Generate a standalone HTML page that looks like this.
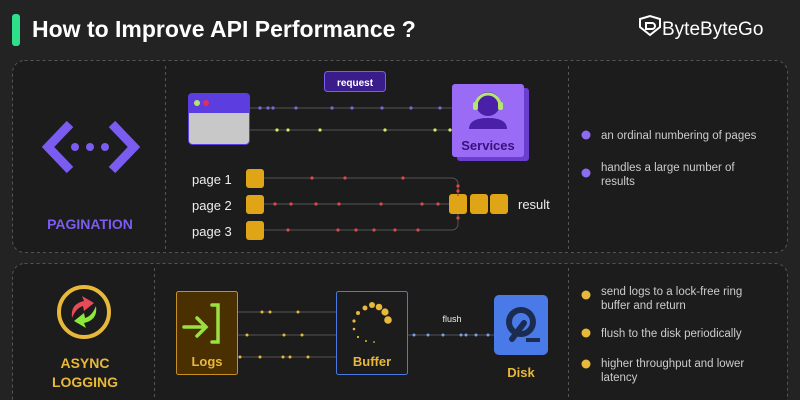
<!DOCTYPE html>
<html><head><meta charset="utf-8"><style>
html,body{margin:0;padding:0;background:#232323;}
svg{display:block;font-family:"Liberation Sans",sans-serif;}
</style></head><body>
<svg width="800" height="400" viewBox="0 0 800 400">
<rect width="800" height="400" fill="#232323"/>
<!-- header -->
<rect x="12" y="14" width="8" height="32" rx="3" fill="#2ee08a"/>
<text x="32" y="37" fill="#fff" font-size="23" font-weight="bold">How to Improve API Performance ?</text>
<g fill="none" stroke="#fff" stroke-width="2"><path d="M640 19 l10 -3 10 3 v8 l-10 8 -10 -8z"/><path d="M646 23 h6 a3 3 0 0 1 0 6 h-6z"/></g>
<text x="662" y="35" fill="#fff" font-size="19">ByteByteGo</text>
<!-- panels -->
<rect x="12.5" y="60.5" width="775" height="192" rx="12" fill="#1c1c1c" stroke="#555" stroke-dasharray="3,3"/>
<rect x="12.5" y="263.5" width="775" height="150" rx="12" fill="#1c1c1c" stroke="#555" stroke-dasharray="3,3"/>
<g stroke="#555" stroke-dasharray="3,3"><line x1="165.5" y1="66" x2="165.5" y2="250"/><line x1="568.5" y1="66" x2="568.5" y2="250"/><line x1="154.5" y1="268" x2="154.5" y2="400"/><line x1="568.5" y1="268" x2="568.5" y2="400"/></g>
<!-- pagination icon -->
<g stroke="#7b5cf0" stroke-width="9" fill="none"><path d="M70 124 L48 147 L70 170"/><path d="M112 124 L134 147 L112 170"/></g>
<g fill="#7b5cf0"><circle cx="75" cy="147" r="4"/><circle cx="90" cy="147" r="4"/><circle cx="105" cy="147" r="4"/></g>
<text x="90" y="229" fill="#7b5cf0" font-size="14" font-weight="bold" text-anchor="middle">PAGINATION</text>
<!-- request -->
<rect x="324.5" y="71.5" width="61" height="20" rx="3" fill="#3a1d8a" stroke="#7b5cf0"/>
<text x="355" y="86" fill="#fff" font-size="10" font-weight="bold" text-anchor="middle">request</text>
<!-- browser -->
<rect x="188.5" y="93.5" width="61" height="51" rx="4" fill="#c8c8c8" stroke="#5b3de0"/>
<path d="M188 97 a4 4 0 0 1 4 -4 h54 a4 4 0 0 1 4 4 v16 h-62z" fill="#5b3de0"/>
<circle cx="197" cy="103" r="3" fill="#b5e66a"/><circle cx="206" cy="103" r="3" fill="#e0305a"/>
<g stroke="#555"><line x1="250" y1="108" x2="452" y2="108"/><line x1="250" y1="130" x2="452" y2="130"/></g>
<g fill="#7b68e0"><circle cx="260" cy="108" r="1.6"/><circle cx="268" cy="108" r="1.6"/><circle cx="273" cy="108" r="1.6"/><circle cx="296" cy="108" r="1.6"/><circle cx="332" cy="108" r="1.6"/><circle cx="352" cy="108" r="1.6"/><circle cx="382" cy="108" r="1.6"/><circle cx="411" cy="108" r="1.6"/><circle cx="440" cy="108" r="1.6"/></g>
<g fill="#c8f060"><circle cx="277" cy="130" r="1.6"/><circle cx="288" cy="130" r="1.6"/><circle cx="320" cy="130" r="1.6"/><circle cx="385" cy="130" r="1.6"/><circle cx="435" cy="130" r="1.6"/><circle cx="450" cy="130" r="1.6"/></g>
<!-- services -->
<rect x="457" y="88" width="72" height="73" rx="3" fill="#6a3fd0"/>
<rect x="452" y="84" width="72" height="73" rx="3" fill="#9a6cf5"/>
<circle cx="488" cy="104" r="12" fill="#4a20a8"/>
<path d="M469 129 q0 -11 19 -11 q19 0 19 11 z" fill="#4a20a8"/>
<path d="M476 106 a12 12 0 0 1 24 0" fill="none" stroke="#b5e66a" stroke-width="3"/>
<rect x="473" y="102" width="5" height="8" rx="2" fill="#b5e66a"/><rect x="498" y="102" width="5" height="8" rx="2" fill="#b5e66a"/>
<text x="488" y="150" fill="#3a1080" font-size="13" font-weight="bold" text-anchor="middle">Services</text>
<!-- pages -->
<g fill="#eee" font-size="13"><text x="192" y="184">page 1</text><text x="192" y="210">page 2</text><text x="192" y="236">page 3</text></g>
<g fill="#e0a417"><rect x="246" y="169" width="18" height="19" rx="3"/><rect x="246" y="195" width="18" height="19" rx="3"/><rect x="246" y="221" width="18" height="19" rx="3"/>
<rect x="449" y="194" width="18" height="20" rx="3"/><rect x="470" y="194" width="18" height="20" rx="3"/><rect x="490" y="194" width="18" height="20" rx="3"/></g>
<g stroke="#555" fill="none"><path d="M264 178 H452 a6 6 0 0 1 6 6 V196"/><line x1="264" y1="204" x2="449" y2="204"/><path d="M264 230 H452 a6 6 0 0 0 6 -6 V214"/></g>
<g fill="#e04848"><circle cx="312" cy="178" r="1.6"/><circle cx="345" cy="178" r="1.6"/><circle cx="403" cy="178" r="1.6"/><circle cx="458" cy="186" r="1.6"/><circle cx="458" cy="191" r="1.6"/>
<circle cx="275" cy="204" r="1.6"/><circle cx="291" cy="204" r="1.6"/><circle cx="316" cy="204" r="1.6"/><circle cx="339" cy="204" r="1.6"/><circle cx="381" cy="204" r="1.6"/><circle cx="422" cy="204" r="1.6"/><circle cx="438" cy="204" r="1.6"/>
<circle cx="288" cy="230" r="1.6"/><circle cx="338" cy="230" r="1.6"/><circle cx="356" cy="230" r="1.6"/><circle cx="374" cy="230" r="1.6"/><circle cx="395" cy="230" r="1.6"/><circle cx="418" cy="230" r="1.6"/><circle cx="458" cy="218" r="1.6"/></g>
<text x="518" y="209" fill="#eee" font-size="13">result</text>
<!-- bullets 1 -->
<g fill="#8c6cf0"><circle cx="586" cy="135" r="4.5"/><circle cx="586" cy="173" r="4.5"/></g>
<g fill="#ccc" font-size="11.5"><text x="601" y="139">an ordinal numbering of pages</text><text x="601" y="171">handles a large number of</text><text x="601" y="185">results</text></g>
<!-- async icon -->
<circle cx="84" cy="312" r="25" fill="none" stroke="#e8b83a" stroke-width="4"/>
<path d="M72 318 q-2 -14 12 -17 l-2 -5 12 7 -10 8 -1 -5 q-7 2 -11 12z" fill="#e84a5a"/>
<path d="M96 306 q2 14 -12 17 l2 5 -12 -7 10 -8 1 5 q7 -2 11 -12z" fill="#8ee83a"/>
<g fill="#e8b83a" font-size="14" font-weight="bold" text-anchor="middle"><text x="85" y="368">ASYNC</text><text x="85" y="387">LOGGING</text></g>
<!-- logs -->
<rect x="176.5" y="291.5" width="61" height="83" rx="2" fill="#4a3000" stroke="#c89020"/>
<g stroke="#9ae040" stroke-width="3.5" fill="none" stroke-linecap="round"><path d="M184 327 h22 M197 318 l9 9 -9 9"/><path d="M212 305 h6 v37 h-6"/></g>
<text x="207" y="366" fill="#e8b83a" font-size="13" font-weight="bold" text-anchor="middle">Logs</text>
<g stroke="#555"><line x1="238" y1="312" x2="336" y2="312"/><line x1="238" y1="335" x2="336" y2="335"/><line x1="238" y1="357" x2="336" y2="357"/></g>
<g fill="#e8b83a"><circle cx="262" cy="312" r="1.5"/><circle cx="270" cy="312" r="1.5"/><circle cx="298" cy="312" r="1.5"/><circle cx="247" cy="335" r="1.5"/><circle cx="284" cy="335" r="1.5"/><circle cx="302" cy="335" r="1.5"/><circle cx="240" cy="357" r="1.5"/><circle cx="260" cy="357" r="1.5"/><circle cx="283" cy="357" r="1.5"/><circle cx="290" cy="357" r="1.5"/><circle cx="308" cy="357" r="1.5"/></g>
<!-- buffer -->
<rect x="336.5" y="291.5" width="71" height="83" rx="2" fill="#1c1c1c" stroke="#4a7ae0"/>
<g fill="#e8b83a"><circle cx="365" cy="308" r="2.5"/><circle cx="372" cy="305" r="3"/><circle cx="379" cy="307" r="3.3"/><circle cx="385" cy="312" r="3.6"/><circle cx="388" cy="320" r="3.8"/><circle cx="358" cy="313" r="2"/><circle cx="354" cy="321" r="1.6"/><circle cx="354" cy="329" r="1.3"/><circle cx="358" cy="337" r="1.1"/><circle cx="366" cy="341" r="1"/><circle cx="374" cy="342" r="0.9"/></g>
<text x="372" y="366" fill="#e8b83a" font-size="13" font-weight="bold" text-anchor="middle">Buffer</text>
<line x1="408" y1="335" x2="494" y2="335" stroke="#555"/>
<g fill="#7a9ef0"><circle cx="414" cy="335" r="1.5"/><circle cx="428" cy="335" r="1.5"/><circle cx="443" cy="335" r="1.5"/><circle cx="461" cy="335" r="1.5"/><circle cx="466" cy="335" r="1.5"/><circle cx="476" cy="335" r="1.5"/><circle cx="488" cy="335" r="1.5"/></g>
<text x="452" y="322" fill="#eee" font-size="9" text-anchor="middle">flush</text>
<!-- disk -->
<rect x="494" y="295" width="54" height="60" rx="5" fill="#4a7ae8"/>
<circle cx="521" cy="322" r="15" fill="#1c2c50"/><circle cx="521" cy="322" r="9" fill="#4a7ae8"/>
<path d="M512 339 l12 -16" stroke="#1c2c50" stroke-width="6" stroke-linecap="round"/>
<rect x="526" y="338" width="14" height="4" fill="#1c2c50"/>
<text x="521" y="377" fill="#e8b83a" font-size="13" font-weight="bold" text-anchor="middle">Disk</text>
<!-- bullets 2 -->
<g fill="#e8b83a"><circle cx="586" cy="295" r="4.5"/><circle cx="586" cy="333" r="4.5"/><circle cx="586" cy="364" r="4.5"/></g>
<g fill="#ccc" font-size="11.5"><text x="601" y="295">send logs to a lock-free ring</text><text x="601" y="309">buffer and return</text><text x="601" y="337">flush to the disk periodically</text><text x="601" y="367">higher throughput and lower</text><text x="601" y="381">latency</text></g>
</svg>
</body></html>
